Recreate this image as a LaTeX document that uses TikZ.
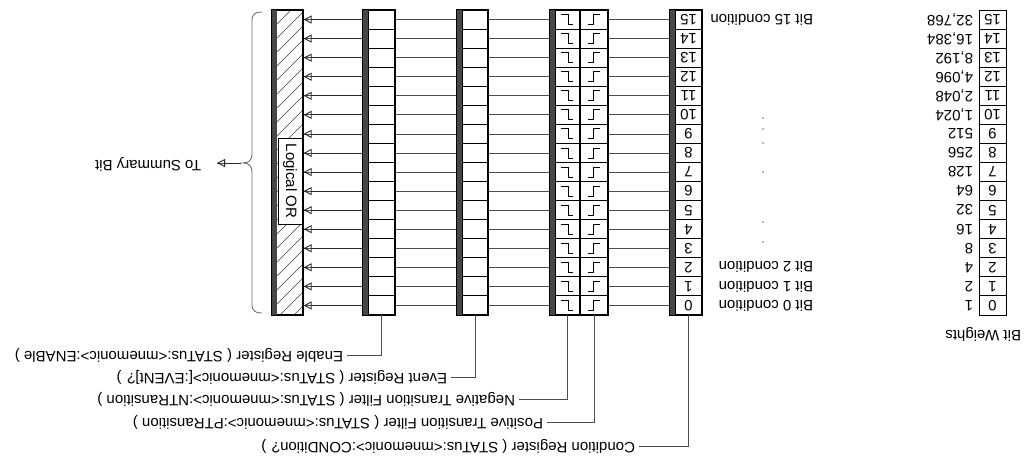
\documentclass[tikz,border=0pt]{standalone}
\usepackage{fontspec}
\setmainfont{Liberation Sans}
\usetikzlibrary{arrows.meta}
\begin{document}
\begin{tikzpicture}[x=1pt,y=-1pt,
  txt/.style={font=\fontsize{15}{18}\selectfont, inner sep=0pt, outer sep=0pt, rotate=180},
  cell/.style={draw=black, line width=0.9pt, minimum height=19.0625pt, inner sep=0pt, outer sep=0pt},
  frame/.style={draw=black, line width=1.3pt},
  band/.style={fill=black!72, draw=black, line width=0.6pt},
  conn/.style={draw=black!70, line width=0.8pt},
  lead/.style={draw=black!70, line width=0.8pt},
  tip/.style={-{Triangle[open,length=8pt,width=8pt,line width=0.9pt]}, draw=black!85, line width=0.8pt},
  hatch/.style={draw=black!75, line width=0.6pt},
  stepline/.style={draw=black, line width=0.9pt},
  bracel/.style={draw=black!60, line width=0.8pt},
]
\useasboundingbox (0,0) rectangle (1030,462);

% Logical OR column
\begin{scope}
  \clip (277,10) rectangle (303,315);
  \foreach \k in {0,...,25} \draw[hatch] (277,{10+\k*14}) -- ++(32,-32);
\end{scope}
\node[frame, minimum width=31pt, minimum height=305pt, inner sep=0pt] (or) at (287.5,162.5) {};
\fill[black!72] (272,10) rectangle (277,315);
\node[draw=black, line width=0.9pt, fill=white, rotate=-90, minimum width=86pt, minimum height=24pt, inner sep=0pt, font=\fontsize{15}{18}\selectfont] (orl) at (290,181) {Logical OR};

% rows
\foreach \b in {0,...,15}{
  \pgfmathsetmacro{\yc}{10+(15.5-\b)*19.0625}
  \node[cell, minimum width=27pt] (c\b) at (688.5,\yc) {};
  \node[txt] (cn\b) at (688.5,\yc) {\b};
  \node[cell, minimum width=28pt] (p\b) at (594,\yc) {};
  \node[cell, minimum width=25pt] (n\b) at (567.5,\yc) {};
  \node[cell, minimum width=26pt] (e\b) at (475,\yc) {};
  \node[cell, minimum width=27pt] (a\b) at (381.5,\yc) {};
  \node[cell, minimum width=27pt] (w\b) at (992.5,\yc) {};
  \node[txt] (wn\b) at (992.5,\yc) {\b};
  \draw[stepline] (561,{\yc-5}) -- (568,{\yc-5}) -- (568,{\yc+5}) -- (573,{\yc+5});
  \draw[stepline] (588,{\yc+5}) -- (593,{\yc+5}) -- (593,{\yc-5}) -- (600,{\yc-5});
  \draw[conn] (c\b.west) -- (p\b.east);
  \draw[conn] (n\b.west) -- (e\b.east);
  \draw[conn] (e\b.west) -- (a\b.east);
  \draw[conn] (a\b.west) -- (a\b.west -| or.east);
  \draw[tip] (a\b.west) -- (a\b.west -| or.east);
}

% register frames and shaded bands
\draw[frame] (670,10) rectangle (702,315);
\fill[black!72] (670,10) rectangle (675,315);
\draw[frame] (550,10) rectangle (608,315);
\draw[black, line width=1.8pt] (580,10) -- (580,315);
\fill[black!72] (550,10) rectangle (555,315);
\draw[frame] (457,10) rectangle (488,315);
\fill[black!72] (457,10) rectangle (462,315);
\draw[frame] (363,10) rectangle (395,315);
\fill[black!72] (363,10) rectangle (368,315);
\draw[black, line width=0.8pt] (979,10) rectangle (1006,315);

% bit weights
\foreach \b/\w in {0/1,1/2,2/4,3/8,4/16,5/32,6/64,7/128,8/256,9/512,10/{1,024},11/{2,048},12/{4,096},13/{8,192},14/{16,384},15/{32,768}}{
  \pgfmathsetmacro{\yc}{10+(15.5-\b)*19.0625}
  \node[txt, anchor=west] (wv\b) at (973,\yc) {\w};
}
\node[txt, anchor=west] (bw) at (1021,334) {Bit Weights};

% bit condition labels
\node[txt, anchor=west] (bc15) at (813,19.5) {Bit 15 condition};
\node[txt, anchor=west] (bc2) at (813,267.3) {Bit 2 condition};
\node[txt, anchor=west] (bc1) at (813,286.4) {Bit 1 condition};
\node[txt, anchor=west] (bc0) at (813,305.5) {Bit 0 condition};
\foreach \d in {118,129,143,172,222,242} \fill[black!55] (763,\d) circle (0.8);

% brace and summary
\draw[bracel] (262,12) .. controls (255,12) and (252,14) .. (252,21) -- (252,154) .. controls (252,160) and (249,163) .. (243,163) .. controls (249,163) and (252,166) .. (252,172) -- (252,304) .. controls (252,311) and (255,313) .. (262,313);
\node[txt, anchor=west] (sum) at (201,164) {To Summary Bit};
\coordinate (bt) at (241,163);
\coordinate (st) at (217,163);
\draw[conn] (bt) -- (st);
\draw[tip] (bt) -- (st);

% bottom labels
\node[txt, anchor=west] (lA) at (343,355) {Enable Register ( STATus:<mnemonic>:ENABle )};
\node[txt, anchor=west] (lE) at (447,377) {Event Register ( STATus:<mnemonic>[:EVENt]? )};
\node[txt, anchor=west] (lN) at (515,399) {Negative Transition Filter ( STATus:<mnemonic>:NTRansition )};
\node[txt, anchor=west] (lP) at (543,422) {Positive Transition Filter ( STATus:<mnemonic>:PTRansition )};
\node[txt, anchor=west] (lC) at (635,446) {Condition Register ( STATus:<mnemonic>:CONDition? )};
\draw[lead] (a0.south) |- ([xshift=4pt]lA.west);
\draw[lead] (e0.south) |- ([xshift=4pt]lE.west);
\draw[lead] (n0.south) |- ([xshift=4pt]lN.west);
\draw[lead] (p0.south) |- ([xshift=4pt]lP.west);
\draw[lead] (c0.south) |- ([xshift=4pt]lC.west);
\end{tikzpicture}
\end{document}
